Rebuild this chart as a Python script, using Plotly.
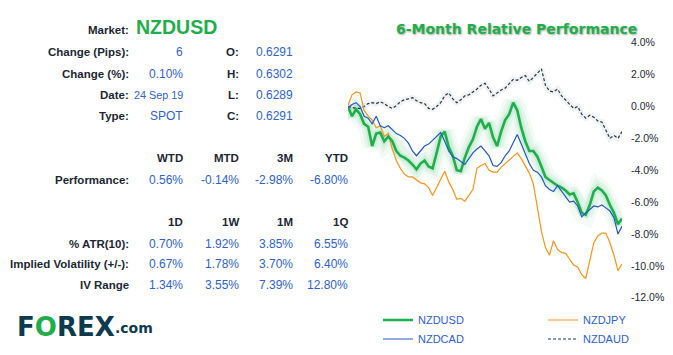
import plotly.graph_objects as go

# ---------------- data ----------------
nzdusd = [0.00, -0.61, -0.18, -0.48, -1.09, -1.27, -2.48, -1.70, -1.64, -2.18,
          -1.88, -2.18, -2.79, -3.09, -3.21, -3.39, -3.64, -3.94, -3.58, -3.39,
          -3.76, -3.88, -2.91, -1.88, -1.58, -2.55, -3.09, -4.00, -4.06, -3.21,
          -2.55, -2.06, -1.27, -0.79, -1.39, -1.03, -1.94, -2.48, -1.58, -0.85,
          -0.48, 0.24, -0.24, -1.33, -2.18, -2.79, -2.79, -3.15, -3.76, -4.42,
          -4.61, -4.79, -4.97, -5.09, -5.27, -5.52, -5.45, -6.00, -6.67, -6.79,
          -6.18, -5.33, -5.09, -5.27, -5.58, -6.18, -6.67, -7.39, -7.03]
nzdjpy = [0.06, 0.73, 0.91, 0.85, -0.24, -0.61, -0.85, -1.33, -1.21, -1.88,
          -1.70, -2.67, -3.39, -3.88, -4.24, -4.42, -4.42, -4.61, -4.79, -4.85,
          -5.09, -5.58, -5.09, -4.61, -4.06, -4.73, -5.21, -5.82, -5.76, -5.94,
          -5.58, -5.21, -3.88, -3.70, -3.58, -4.00, -4.12, -4.12, -3.82, -3.58,
          -3.33, -3.15, -2.91, -3.27, -3.70, -4.18, -4.85, -6.42, -7.82, -8.85,
          -9.33, -8.42, -8.97, -9.15, -9.21, -9.58, -9.94, -10.06, -10.55, -10.79,
          -9.70, -8.55, -8.12, -7.94, -7.94, -8.55, -9.33, -10.30, -9.88]
nzdcad = [-0.06, 0.12, 0.24, 0.00, -0.61, -0.73, -1.09, -0.61, -1.21, -1.33,
          -1.21, -1.45, -1.70, -1.82, -2.00, -2.30, -2.79, -3.09, -2.79, -2.48,
          -2.36, -2.12, -1.82, -1.64, -2.18, -2.79, -3.15, -3.27, -3.45, -3.64,
          -3.27, -2.91, -2.67, -2.48, -2.79, -3.09, -3.70, -3.76, -3.52, -3.09,
          -2.79, -2.30, -1.76, -2.36, -2.97, -3.58, -4.00, -4.12, -4.42, -4.97,
          -5.21, -5.33, -4.97, -5.33, -5.70, -6.00, -5.94, -6.24, -6.91, -6.67,
          -6.48, -6.24, -6.30, -6.18, -6.36, -6.55, -6.97, -8.00, -7.52]
nzdaud = [0.00, -0.06, -0.12, -0.12, 0.00, 0.18, 0.24, 0.18, 0.30, 0.18,
          0.00, -0.12, 0.06, 0.30, 0.42, 0.48, 0.55, 0.36, 0.24, 0.18,
          -0.12, -0.18, 0.00, 0.24, 0.67, 0.85, 0.48, 0.24, 0.42, 0.67,
          0.73, 0.91, 1.09, 1.33, 1.45, 1.09, 0.67, 0.85, 1.03, 1.15,
          1.45, 1.70, 1.64, 1.82, 1.94, 1.58, 1.82, 2.06, 2.36, 1.33,
          0.97, 0.91, 1.09, 0.67, 0.42, 0.12, -0.12, 0.00, -0.48, -0.73,
          -0.55, -0.67, -0.91, -0.97, -1.45, -2.00, -1.82, -2.00, -1.58]
days = list(range(len(nzdusd)))

y_ticks = [4, 2, 0, -2, -4, -6, -8, -10, -12]
y_tick_labels = ["4.0%", "2.0%", "0.0%", "-2.0%", "-4.0%", "-6.0%", "-8.0%", "-10.0%", "-12.0%"]

market = "NZDUSD"
info_labels = ["Change (Pips):", "Change (%):", "Date:", "Type:"]
info_values = ["6", "0.10%", "24 Sep 19", "SPOT"]
ohlc_labels = ["O:", "H:", "L:", "C:"]
ohlc_values = ["0.6291", "0.6302", "0.6289", "0.6291"]
perf_headers = ["WTD", "MTD", "3M", "YTD"]
perf_values = ["0.56%", "-0.14%", "-2.98%", "-6.80%"]
vol_headers = ["1D", "1W", "1M", "1Q"]
vol_labels = ["% ATR(10):", "Implied Volatility (+/-):", "IV Range"]
vol_values = [["0.70%", "1.92%", "3.85%", "6.55%"],
              ["0.67%", "1.78%", "3.70%", "6.40%"],
              ["1.34%", "3.55%", "7.39%", "12.80%"]]

# ---------------- style ----------------
W, H = 673, 355
GREEN = "#1fae4b"
ORANGE = "#f7941d"
BLUE = "#2458c0"
DARK = "#1d3a4a"
LABEL = "#1c2733"
VALUE = "#2f62c8"
FONT = "Liberation Sans, Arial, sans-serif"


def px(x):
    return x / W


def py(y):
    return 1 - y / H


fig = go.Figure()

# soft halo under NZDAUD
fig.add_trace(go.Scatter(x=days, y=nzdaud, mode="lines", hoverinfo="skip", showlegend=False,
                         line=dict(color="rgba(0,0,0,0.05)", width=6)))
# glow under NZDUSD
for w, a in [(20, 0.05), (13, 0.08), (7, 0.12)]:
    fig.add_trace(go.Scatter(x=days, y=nzdusd, mode="lines", hoverinfo="skip", showlegend=False,
                             line=dict(color=f"rgba(40,180,90,{a})", width=w)))

fig.add_trace(go.Scatter(x=days, y=nzdaud, mode="lines", name="NZDAUD", legend="legend2",
                         legendrank=2, line=dict(color=DARK, width=1.2, dash="3px,2px")))
fig.add_trace(go.Scatter(x=days, y=nzdjpy, mode="lines", name="NZDJPY", legend="legend2",
                         legendrank=1, line=dict(color=ORANGE, width=1.2)))
fig.add_trace(go.Scatter(x=days, y=nzdusd, mode="lines", name="NZDUSD", legend="legend",
                         legendrank=1, line=dict(color=GREEN, width=2.6)))
fig.add_trace(go.Scatter(x=days, y=nzdcad, mode="lines", name="NZDCAD", legend="legend",
                         legendrank=2, line=dict(color=BLUE, width=1.2)))


def txt(x, y, s, size, color, bold=False, anchor="right", family=FONT):
    fig.add_annotation(x=px(x), y=py(y), xref="paper", yref="paper", text=s, showarrow=False,
                       xanchor=anchor, yanchor="middle", borderpad=0,
                       font=dict(family=family, size=size, color=color,
                                 weight="bold" if bold else "normal"))


LAB_R = 130
COLS = [184, 240, 294, 349]

txt(LAB_R, 25, "Market:", 11.5, LABEL, True)
txt(135, 22, market, 19.5, GREEN, True, "left")
rows_y = [48, 70, 92, 114]
for i, yy in enumerate(rows_y):
    txt(LAB_R, yy, info_labels[i], 11.5, LABEL, True)
    txt(COLS[0], yy, info_values[i], 10.8 if len(info_values[i]) > 6 else 12, VALUE)
    txt(COLS[1], yy, ohlc_labels[i], 11.5, LABEL, True)
    txt(COLS[2], yy, ohlc_values[i], 12, VALUE)

for j in range(4):
    txt(COLS[j], 157, perf_headers[j], 11.5, LABEL, True)
    txt(COLS[j], 180, perf_values[j], 12, VALUE)
    txt(COLS[j], 224, vol_headers[j], 11.5, LABEL, True)
txt(LAB_R, 180, "Performance:", 11.5, LABEL, True)
for i, yy in enumerate([246, 267, 289]):
    txt(LAB_R, yy, vol_labels[i], 11.5, LABEL, True)
    for j in range(4):
        txt(COLS[j], yy, vol_values[i][j], 12, VALUE)

# logo
txt(16, 332, f"F<span style='color:{GREEN}'>O</span>REX", 26, "#0e3a4d", True, "left",
    family="DejaVu Sans, sans-serif")
txt(114, 333, ".com", 14, "#0e3a4d", True, "left", family="DejaVu Sans, sans-serif")

# chart title
fig.add_annotation(x=px(516), y=py(24), xref="paper", yref="paper", showarrow=False,
                   text="6-Month Relative Performance", xanchor="center", yanchor="middle",
                   font=dict(family="DejaVu Sans, sans-serif", size=14, color=GREEN, weight="bold",
                             shadow="1px 1px 2px rgba(0,0,0,0.35)"))

fig.update_layout(
    width=W, height=H,
    margin=dict(l=0, r=0, t=0, b=0),
    paper_bgcolor="white", plot_bgcolor="white",
    showlegend=True,
    xaxis=dict(domain=[px(348), px(622)], range=[0, len(days) - 1], visible=False),
    yaxis=dict(domain=[py(302), py(38)], range=[-12, 4], side="right",
               tickvals=y_ticks, ticktext=y_tick_labels, showgrid=False, zeroline=False,
               showline=False, ticks="", ticklabelstandoff=8,
               tickfont=dict(family=FONT, size=10.5, color=LABEL)),
    legend=dict(x=px(378), y=py(310), xanchor="left", yanchor="top", bgcolor="rgba(0,0,0,0)",
                font=dict(family=FONT, size=11, color=VALUE), tracegroupgap=0,
                orientation="v", itemwidth=30),
    legend2=dict(x=px(543), y=py(310), xanchor="left", yanchor="top", bgcolor="rgba(0,0,0,0)",
                 font=dict(family=FONT, size=11, color=VALUE), tracegroupgap=0,
                 orientation="v", itemwidth=30),
)

fig.write_html("out.html", post_script="document.body.style.margin='0';",
               config={"displayModeBar": False})
